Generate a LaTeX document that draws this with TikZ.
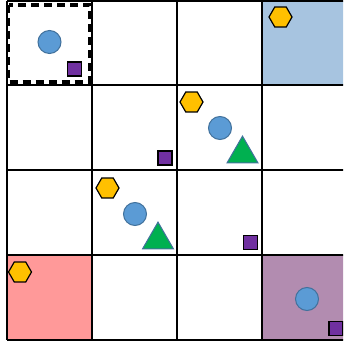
\documentclass[tikz,border=0pt]{standalone}
\usetikzlibrary{shapes.geometric}

\definecolor{casebleu}{HTML}{A7C4E0}
\definecolor{caserouge}{HTML}{FF9999}
\definecolor{casemauve}{HTML}{B28CB0}
\definecolor{pionjaune}{HTML}{FFC000}
\definecolor{pionbleu}{HTML}{5B9BD5}
\definecolor{pionbord}{HTML}{41719C}
\definecolor{pionvert}{HTML}{00B050}
\definecolor{pionviolet}{HTML}{7030A0}

\tikzset{
  hexa/.style={regular polygon, regular polygon sides=6, minimum size=23pt,
    inner sep=0pt, draw=black, fill=pionjaune, line width=1.2pt},
  rond/.style={circle, minimum size=23pt, inner sep=0pt,
    draw=pionbord, fill=pionbleu, line width=1pt},
  trio/.style={regular polygon, regular polygon sides=3, minimum size=35.8pt,
    inner sep=0pt, draw=pionbord, fill=pionvert, line width=1pt},
  carre/.style={rectangle, minimum size=14pt, inner sep=0pt,
    draw=black, fill=pionviolet, line width=1.5pt}
}

\begin{document}
\begin{tikzpicture}[x=1pt, y=-1pt]
\useasboundingbox (0,0) rectangle (343,347);
\clip (0,0) rectangle (343,347);
% cases colorees
\fill[casebleu] (262,1) rectangle (347,85);
\fill[caserouge] (7,255) rectangle (92,340);
\fill[casemauve] (262,255) rectangle (347,340);
% grille
\foreach \i in {0,...,4}
  \draw[line width=1.8pt] (7+85*\i,1) -- (7+85*\i,340);
\foreach \j in {1,85,170,255,340}
  \draw[line width=1.8pt] (7,\j) -- (347,\j);
% case de depart
\draw[line width=3.4pt, dash pattern=on 8pt off 5pt] (8.5,5) rectangle (89.5,82);
\node[rond] (rond1) at (49.5,42) {};
\node[carre] (carre1) at (74.5,69) {};
\node[carre] (carre2) at (165,158) {};
\node[hexa] (hexa1) at (280.5,17) {};
\node[hexa] (hexa2) at (191.5,102) {};
\node[rond] (rond2) at (220,128) {};
\node[trio] (trio1) at (242.5,154) {};
\node[hexa] (hexa3) at (107.5,188) {};
\node[rond] (rond3) at (135,214) {};
\node[trio] (trio2) at (158,240) {};
\node[carre] (carre3) at (250.5,242.5) {};
\node[hexa] (hexa4) at (20,272) {};
\node[rond] (rond4) at (307,299) {};
\node[carre] (carre4) at (336,328.5) {};
\end{tikzpicture}
\end{document}
